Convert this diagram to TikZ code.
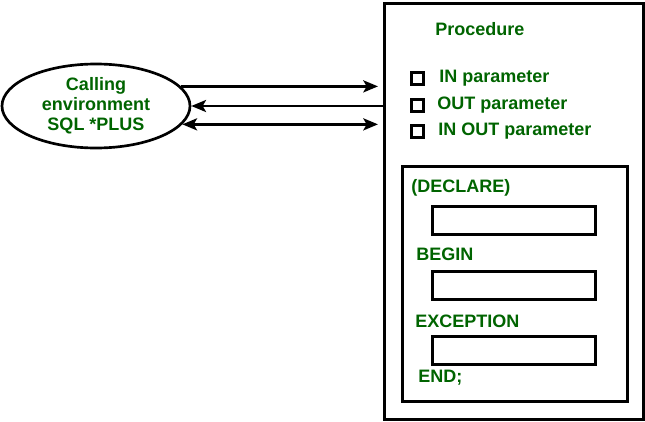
\documentclass[tikz,border=0pt]{standalone}
\usepackage{fontspec}
\setmainfont{Liberation Sans}
\usetikzlibrary{arrows.meta,shapes.geometric}
\definecolor{txtgreen}{RGB}{0,100,0}

\begin{document}
\begin{tikzpicture}[x=0.75pt,y=0.75pt,yscale=-1,xscale=1,line width=2pt,
  txt/.style={inner sep=0.75pt,text=txtgreen,font=\fontsize{13.5}{15}\selectfont\bfseries},
  lbl/.style={txt,anchor=west},
  chk/.style={draw,minimum size=9pt,inner sep=0pt,line width=2.25pt},
  blk/.style={draw,inner sep=0pt,anchor=north west,line width=2pt},
  arr/.style={-{Stealth[length=11pt,width=9pt,inset=2.5pt]}},
  darr/.style={{Stealth[length=11pt,width=9pt,inset=2.5pt]}-{Stealth[length=11pt,width=9pt,inset=2.5pt]}}]
\path[use as bounding box] (0,0) rectangle (645,421);

%Shape: Ellipse [calling environment]
\node[ellipse,draw,line width=2pt,minimum width=141pt,minimum height=63pt,inner sep=0pt,txt,align=center] (env) at (96,106) {Calling\\environment\\SQL *PLUS};

%Shape: Rectangle [procedure]
\node[blk,minimum width=194.25pt,minimum height=312pt] (proc) at (383,2) {};
%Shape: Rectangle [body]
\node[blk,minimum width=168.75pt,minimum height=176.25pt] (body) at (401,165) {};
%Shape: Rectangle [declare part]
\node[blk,minimum width=122.25pt,minimum height=21pt] (decl) at (431,205) {};
%Shape: Rectangle [begin part]
\node[blk,minimum width=122.25pt,minimum height=21pt] (exec) at (431,270) {};
%Shape: Rectangle [exception part]
\node[blk,minimum width=122.25pt,minimum height=21pt] (excp) at (431,335) {};

%Shape: Square [check boxes]
\node[chk] (cin) at (417.5,78) {};
\node[chk] (cout) at (417.5,105) {};
\node[chk] (cinout) at (417.5,131) {};

%Straight Lines [arrows]
\draw[arr,line width=2pt] (env.13.5) -- ([xshift=-3.75pt]proc.west |- env.13.5);
\draw[arr,line width=2pt] (proc.west |- env.east) -- (env.east);
\draw[darr,line width=2pt] (env.-12) -- ([xshift=-3.75pt]proc.west |- env.-12);

% Text Node
\node[lbl] (tproc) at (433,29) {Procedure};
% Text Node
\node[lbl] (tin) at (437,78) {IN parameter};
% Text Node
\node[lbl] (tout) at (435,105) {OUT parameter};
% Text Node
\node[lbl] (tinout) at (436,131) {IN OUT parameter};
% Text Node
\node[lbl] (tdecl) at (409,188) {(DECLARE)};
% Text Node
\node[lbl] (tbegin) at (414,254) {BEGIN};
% Text Node
\node[lbl] (texcp) at (413,321) {EXCEPTION};
% Text Node
\node[lbl] (tend) at (416,378) {END;};

\end{tikzpicture}
\end{document}
